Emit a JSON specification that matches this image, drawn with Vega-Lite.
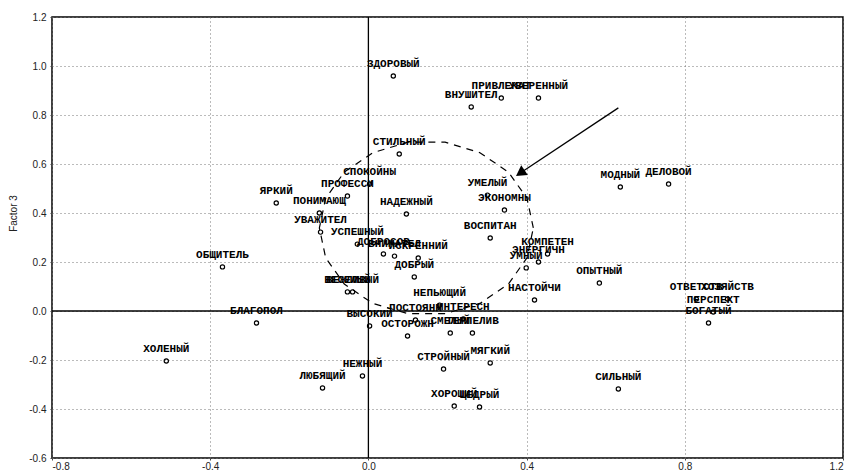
{
  "$schema": "https://vega.github.io/schema/vega-lite/v6.json",
  "autosize": {"type": "none"},
  "width": 791,
  "height": 441,
  "padding": {"left": 52, "top": 17, "right": 7, "bottom": 14},
  "background": "white",
  "config": {
    "view": {"stroke": "black", "strokeWidth": 1.5},
    "axis": {"labelFont": "Liberation Sans", "labelFontSize": 10, "labelColor": "#222", "domain": false, "grid": true, "gridColor": "#777", "gridDash": [1, 3], "gridWidth": 1, "tickColor": "#444", "tickSize": 2, "titleFont": "Liberation Sans", "titleFontWeight": "normal", "titleFontSize": 10, "titleColor": "#222"}
  },
  "datasets": {
    "pts": [
      {"x": 0.063, "y": 0.959, "label": "ЗДОРОВЫЙ"},
      {"x": 0.260, "y": 0.833, "label": "ВНУШИТЕЛ"},
      {"x": 0.336, "y": 0.869, "label": "ПРИВЛЕКАТ"},
      {"x": 0.430, "y": 0.869, "label": "УВЕРЕННЫЙ"},
      {"x": 0.078, "y": 0.641, "label": "СТИЛЬНЫЙ"},
      {"x": 0.003, "y": 0.518, "label": "СПОКОЙНЫ"},
      {"x": -0.053, "y": 0.469, "label": "ПРОФЕССИ"},
      {"x": -0.233, "y": 0.441, "label": "ЯРКИЙ"},
      {"x": -0.124, "y": 0.400, "label": "ПОНИМАЮЩ"},
      {"x": -0.121, "y": 0.322, "label": "УВАЖИТЕЛ"},
      {"x": -0.028, "y": 0.273, "label": "УСПЕШНЫЙ"},
      {"x": 0.096, "y": 0.396, "label": "НАДЕЖНЫЙ"},
      {"x": 0.038, "y": 0.233, "label": "ДОБРОСОВ"},
      {"x": 0.066, "y": 0.224, "label": "ВНИМАТЕЛ"},
      {"x": 0.126, "y": 0.216, "label": "ИСКРЕННИЙ"},
      {"x": 0.116, "y": 0.139, "label": "ДОБРЫЙ"},
      {"x": -0.369, "y": 0.180, "label": "ОБЩИТЕЛЬ"},
      {"x": -0.053, "y": 0.078, "label": "ВЕСЕЛЫЙ"},
      {"x": -0.040, "y": 0.078, "label": "ВЕЖЛИВЫЙ"},
      {"x": 0.180, "y": 0.024, "label": "НЕПЬЮЩИЙ"},
      {"x": 0.119, "y": -0.037, "label": "ПОСТОЯНН"},
      {"x": 0.240, "y": -0.033, "label": "ИНТЕРЕСН"},
      {"x": 0.003, "y": -0.061, "label": "ВЫСОКИЙ"},
      {"x": 0.099, "y": -0.102, "label": "ОСТОРОЖН"},
      {"x": 0.207, "y": -0.090, "label": "СМЕЛЫЙ"},
      {"x": 0.263, "y": -0.090, "label": "ТЕРПЕЛИВ"},
      {"x": 0.190, "y": -0.237, "label": "СТРОЙНЫЙ"},
      {"x": 0.308, "y": -0.212, "label": "МЯГКИЙ"},
      {"x": -0.015, "y": -0.265, "label": "НЕЖНЫЙ"},
      {"x": -0.116, "y": -0.314, "label": "ЛЮБЯЩИЙ"},
      {"x": 0.217, "y": -0.388, "label": "ХОРОШИЙ"},
      {"x": 0.281, "y": -0.392, "label": "ЩЕДРЫЙ"},
      {"x": 0.632, "y": -0.318, "label": "СИЛЬНЫЙ"},
      {"x": -0.283, "y": -0.049, "label": "БЛАГОПОЛ"},
      {"x": -0.511, "y": -0.204, "label": "ХОЛЕНЫЙ"},
      {"x": 0.301, "y": 0.473, "label": "УМЕЛЫЙ"},
      {"x": 0.344, "y": 0.412, "label": "ЭКОНОМНЫ"},
      {"x": 0.308, "y": 0.298, "label": "ВОСПИТАН"},
      {"x": 0.453, "y": 0.233, "label": "КОМПЕТЕН"},
      {"x": 0.430, "y": 0.200, "label": "ЭНЕРГИЧН"},
      {"x": 0.399, "y": 0.176, "label": "УМНЫЙ"},
      {"x": 0.420, "y": 0.045, "label": "НАСТОЙЧИ"},
      {"x": 0.584, "y": 0.114, "label": "ОПЫТНЫЙ"},
      {"x": 0.637, "y": 0.506, "label": "МОДНЫЙ"},
      {"x": 0.759, "y": 0.518, "label": "ДЕЛОВОЙ"},
      {"x": 0.829, "y": 0.049, "label": "ОТВЕТСТВ"},
      {"x": 0.908, "y": 0.049, "label": "ХОЗЯЙСТВ"},
      {"x": 0.872, "y": -0.004, "label": "ПЕРСПЕКТ"},
      {"x": 0.860, "y": -0.049, "label": "БОГАТЫЙ"}
    ],
    "ellipse": [
      {"i": 0, "x": 0.417, "y": 0.339},
      {"i": 1, "x": 0.401, "y": 0.460},
      {"i": 2, "x": 0.354, "y": 0.567},
      {"i": 3, "x": 0.282, "y": 0.646},
      {"i": 4, "x": 0.194, "y": 0.689},
      {"i": 5, "x": 0.100, "y": 0.689},
      {"i": 6, "x": 0.011, "y": 0.646},
      {"i": 7, "x": -0.061, "y": 0.567},
      {"i": 8, "x": -0.108, "y": 0.460},
      {"i": 9, "x": -0.124, "y": 0.339},
      {"i": 10, "x": -0.108, "y": 0.217},
      {"i": 11, "x": -0.061, "y": 0.110},
      {"i": 12, "x": 0.011, "y": 0.031},
      {"i": 13, "x": 0.100, "y": -0.011},
      {"i": 14, "x": 0.194, "y": -0.011},
      {"i": 15, "x": 0.282, "y": 0.031},
      {"i": 16, "x": 0.354, "y": 0.110},
      {"i": 17, "x": 0.401, "y": 0.217},
      {"i": 18, "x": 0.417, "y": 0.339}
    ],
    "arrow": [
      {"x": 0.632, "y": 0.829, "x2": 0.384, "y2": 0.563}
    ]
  },
  "layer": [
    {
      "data": {"values": [{"v": 0}]},
      "mark": {"type": "rule", "color": "black", "strokeWidth": 1.3},
      "encoding": {"x": {"field": "v", "type": "quantitative", "scale": {"domain": [-0.8, 1.2], "nice": false, "zero": false}, "axis": {"title": null, "values": [-0.8, -0.4, 0, 0.4, 0.8, 1.2], "format": ".1f", "labelExpr": "replace(datum.label, '−', '-')", "labelPadding": 1}}}
    },
    {
      "data": {"values": [{"v": 0}]},
      "mark": {"type": "rule", "color": "black", "strokeWidth": 1.3},
      "encoding": {"y": {"field": "v", "type": "quantitative", "scale": {"domain": [-0.6, 1.2], "nice": false, "zero": false}, "axis": {"title": "Factor 3", "values": [-0.6, -0.4, -0.2, 0, 0.2, 0.4, 0.6, 0.8, 1.0, 1.2], "format": ".1f", "labelExpr": "replace(datum.label, '−', '-')", "labelPadding": 4, "titleX": -34, "titleY": 196}}}
    },
    {
      "data": {"name": "ellipse"},
      "mark": {"type": "line", "color": "black", "strokeWidth": 1.2, "strokeDash": [7, 6]},
      "encoding": {
        "x": {"field": "x", "type": "quantitative"},
        "y": {"field": "y", "type": "quantitative"},
        "order": {"field": "i", "type": "quantitative"}
      }
    },
    {
      "data": {"name": "arrow"},
      "mark": {"type": "rule", "color": "black", "strokeWidth": 1.3},
      "encoding": {
        "x": {"field": "x", "type": "quantitative"},
        "y": {"field": "y", "type": "quantitative"},
        "x2": {"field": "x2"},
        "y2": {"field": "y2"}
      }
    },
    {
      "data": {"name": "arrow"},
      "mark": {"type": "point", "shape": "triangle-up", "filled": true, "color": "black", "size": 140, "angle": 236, "opacity": 1},
      "encoding": {
        "x": {"field": "x2", "type": "quantitative"},
        "y": {"field": "y2", "type": "quantitative"}
      }
    },
    {
      "data": {"name": "pts"},
      "mark": {"type": "point", "shape": "circle", "filled": false, "color": "black", "size": 18, "strokeWidth": 1.2, "opacity": 1},
      "encoding": {
        "x": {"field": "x", "type": "quantitative"},
        "y": {"field": "y", "type": "quantitative"}
      }
    },
    {
      "data": {"name": "pts"},
      "mark": {"type": "text", "font": "Liberation Mono", "fontWeight": "bold", "fontSize": 11, "color": "black", "align": "center", "baseline": "middle", "dy": -12},
      "encoding": {
        "x": {"field": "x", "type": "quantitative"},
        "y": {"field": "y", "type": "quantitative"},
        "text": {"field": "label"}
      }
    }
  ]
}
